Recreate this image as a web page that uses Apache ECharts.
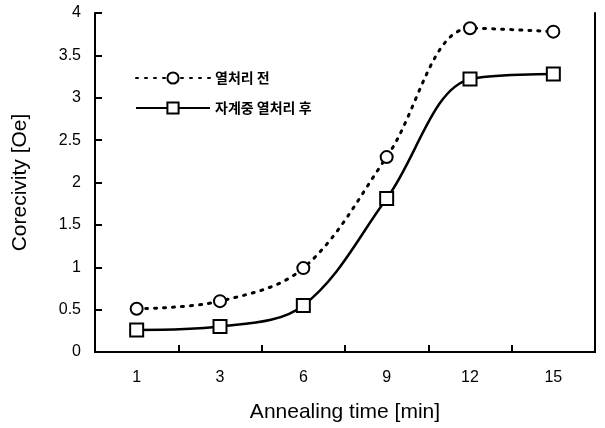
<!DOCTYPE html>
<html>
<head>
<meta charset="utf-8">
<script src="https://cdn.jsdelivr.net/npm/echarts@6/dist/echarts.min.js"></script>
<style>
  html, body { margin: 0; padding: 0; background: #fff; }
  #chart { width: 605px; height: 428px; }
</style>
</head>
<body>
<div id="chart"></div>
<script>
// 데이터
const times = ['1', '3', '6', '9', '12', '15'];
const beforeAnneal = [0.51, 0.6, 0.99, 2.3, 3.82, 3.78];
const afterFieldAnneal = [0.26, 0.3, 0.55, 1.81, 3.22, 3.28];
const yTicks = [0, 0.5, 1, 1.5, 2, 2.5, 3, 3.5, 4];

const chart = echarts.init(document.getElementById('chart'));

const option = {
    backgroundColor: '#fff',
    animation: false,
    textStyle: { fontFamily: 'Liberation Sans, Arial, sans-serif', color: '#000' },
    grid: {
        left: 95,
        right: 10,
        top: 13,
        bottom: 75
    },
    legend: {
        left: 130,
        top: 66,
        orient: 'vertical',
        itemWidth: 74,
        itemHeight: 14,
        itemGap: 16,
        textStyle: {
            fontFamily: 'Noto Sans CJK KR',
            fontSize: 14,
            fontWeight: 'bold',
            color: '#000'
        },
        data: ['열처리 전', '자계중 열처리 후']
    },
    xAxis: [
        {
            type: 'category',
            data: times,
            boundaryGap: true,
            name: 'Annealing time [min]',
            nameLocation: 'middle',
            nameGap: 50,
            nameTextStyle: { fontSize: 21, color: '#000' },
            axisLine: { show: true, lineStyle: { color: '#000', width: 2 } },
            axisTick: { show: true, inside: true, length: 7, lineStyle: { color: '#000', width: 2 } },
            axisLabel: { fontSize: 16, color: '#000', margin: 18 }
        },
        {
            type: 'category',
            data: times,
            position: 'top',
            axisLine: { show: true, lineStyle: { color: '#000', width: 2 } },
            axisTick: { show: false },
            axisLabel: { show: false }
        }
    ],
    yAxis: [
        {
            type: 'value',
            min: 0,
            max: 4,
            interval: 0.5,
            name: 'Corecivity [Oe]',
            nameLocation: 'middle',
            nameGap: 64,
            nameTextStyle: { fontSize: 21, color: '#000' },
            axisLine: { show: true, lineStyle: { color: '#000', width: 2 } },
            axisTick: { show: true, inside: true, length: 7, lineStyle: { color: '#000', width: 2 } },
            axisLabel: {
                fontSize: 16,
                color: '#000',
                margin: 14,
                formatter: function (v) { return yTicks.indexOf(v) >= 0 ? String(v) : ''; }
            },
            splitLine: { show: false }
        },
        {
            type: 'value',
            min: 0,
            max: 4,
            interval: 0.5,
            position: 'right',
            axisLine: { show: true, lineStyle: { color: '#000', width: 2 } },
            axisTick: { show: false },
            axisLabel: { show: false },
            splitLine: { show: false }
        }
    ],
    series: [
        {
            name: '열처리 전',
            type: 'line',
            smooth: 0.35,
            data: beforeAnneal,
            symbol: 'circle',
            symbolSize: 12,
            itemStyle: { color: '#fff', borderColor: '#000', borderWidth: 2 },
            lineStyle: { color: '#000', width: 3, type: [2, 7], cap: 'round' }
        },
        {
            name: '자계중 열처리 후',
            type: 'line',
            smooth: 0.35,
            data: afterFieldAnneal,
            symbol: 'rect',
            symbolSize: 13,
            itemStyle: { color: '#fff', borderColor: '#000', borderWidth: 2 },
            lineStyle: { color: '#000', width: 2.5, type: 'solid' }
        }
    ]
};

chart.setOption(option);
</script>
</body>
</html>
